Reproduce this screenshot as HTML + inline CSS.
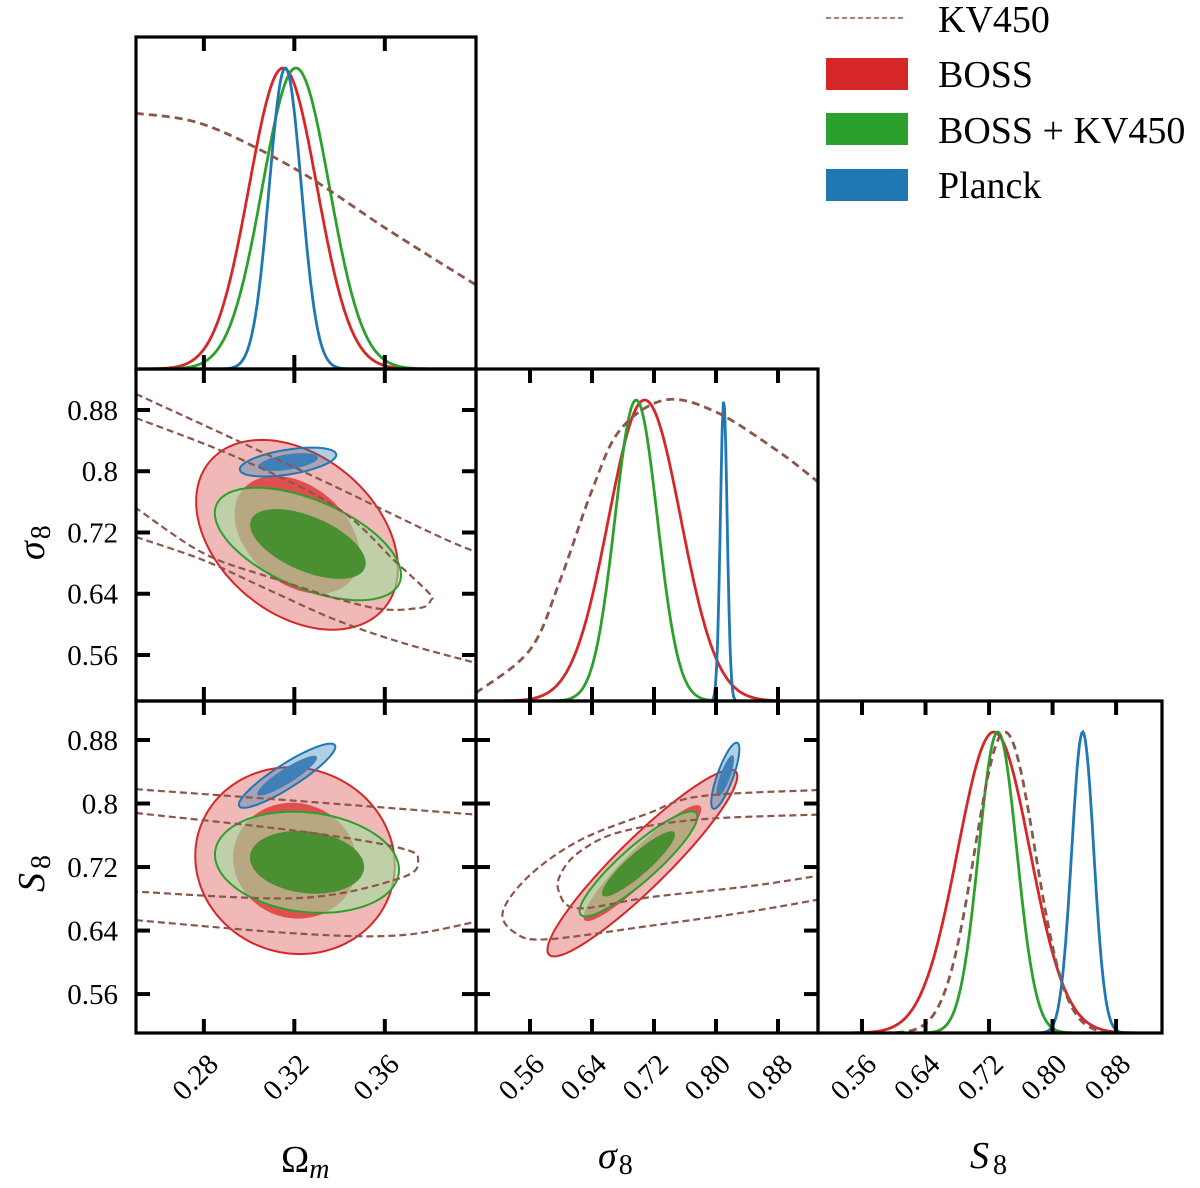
<!DOCTYPE html>
<html><head><meta charset="utf-8">
<style>
html,body{margin:0;padding:0;background:#fff;}
svg, svg text{font-family:"Liberation Serif","DejaVu Serif",serif;}
</style></head>
<body>
<svg id="fig" width="1200" height="1183" viewBox="0 0 1200 1183" xmlns="http://www.w3.org/2000/svg" font-family="Liberation Serif, serif">
<g id="marks"></g>
<g id="frames"></g>
<g id="labels"></g>
<g id="legend">
  <line x1="826" y1="18" x2="906" y2="18" stroke="#8c564b" stroke-width="1.6" stroke-dasharray="5,3"/>
  <text x="938" y="32" font-size="38">KV450</text>
  <rect x="826" y="58" width="82" height="32" fill="#d62728"/>
  <text x="938" y="87" font-size="38">BOSS</text>
  <rect x="826" y="113" width="82" height="32" fill="#2ca02c"/>
  <text x="938" y="143" font-size="38">BOSS + KV450</text>
  <rect x="826" y="169" width="82" height="32" fill="#1f77b4"/>
  <text x="938" y="198" font-size="38">Planck</text>
</g>
<g>
  <text x="281" y="1172" font-size="38">Ω<tspan font-style="italic" font-size="28" dy="6">m</tspan></text>
  <text x="598" y="1168" font-size="38" font-style="italic">σ<tspan font-style="normal" font-size="28" dy="6" dx="2">8</tspan></text>
  <text x="970" y="1168" font-size="38" font-style="italic">S<tspan font-style="normal" font-size="28" dy="6" dx="4">8</tspan></text>
  <text transform="translate(44 560) rotate(-90)" font-size="38" font-style="italic">σ<tspan font-style="normal" font-size="28" dy="6" dx="2">8</tspan></text>
  <text transform="translate(44 892) rotate(-90)" font-size="38" font-style="italic">S<tspan font-style="normal" font-size="28" dy="6" dx="4">8</tspan></text>
</g>
</svg>
<script>
// ---------- data ----------
const omMeans = [0.315, 0.3207, 0.316];
const omSigmas = [0.015, 0.0148, 0.0071];
const s8sigMeans = [0.708, 0.697, 0.810];
const s8sigSigmas = [0.0466, 0.0274, 0.0044];
const S8Means = [0.726, 0.731, 0.838];
const S8Sigmas = [0.0455, 0.024, 0.0139];
const kvS8Mean = 0.740;
const kvS8Sigma = 0.038;
const kvOmX = [0.25, 0.2805, 0.3212, 0.3615, 0.4003];
const kvOmD = [0.850, 0.811, 0.661, 0.462, 0.279];
const kvSigX = [0.4903, 0.56, 0.5987, 0.64, 0.6761, 0.7342, 0.80, 0.88, 0.9316];
const kvSigD = [0.027, 0.17, 0.40, 0.70, 0.90, 1.0, 0.96, 0.83, 0.728];
const omSigEll = [[0.3212,0.717,0.0182,0.0506,-0.35],[0.326,0.705,0.0168,0.030,-0.55],[0.3172,0.812,0.0087,0.0077,0.5]];
const omS8Ell = [[0.3203,0.728,0.018,0.048,-0.05],[0.3256,0.726,0.0166,0.026,-0.15],[0.3168,0.835,0.0087,0.0165,0.9]];
const sigS8Ell = [[0.705,0.725,0.05,0.048,0.93],[0.700,0.724,0.031,0.027,0.9],[0.812,0.835,0.0074,0.017,0.8]];
const kvOmSigOuterA_x = [0.25,0.2942,0.3384,0.3826,0.4003];
const kvOmSigOuterA_y = [0.9009,0.8408,0.7794,0.7167,0.6945];
const kvOmSigOuterB_x = [0.25,0.2796,0.3088,0.3384,0.368,0.4003];
const kvOmSigOuterB_y = [0.7141,0.6841,0.6449,0.6057,0.5757,0.5495];
const kvOmSigInner_x = [0.25,0.2942,0.3384,0.3649,0.3795,0.3804,0.3751,0.353,0.3088,0.2796,0.25];
const kvOmSigInner_y = [0.8696,0.8186,0.7533,0.6815,0.641,0.6318,0.6214,0.6227,0.6619,0.6932,0.752];
const kvOmS8OuterA_x = [0.25,0.3225,0.4003];
const kvOmS8OuterA_y = [0.818,0.803,0.786];
const kvOmS8OuterB_x = [0.25,0.3225,0.3667,0.4003];
const kvOmS8OuterB_y = [0.653,0.636,0.634,0.651];
const kvOmS8Inner_x = [0.25,0.3225,0.3667,0.3747,0.3667,0.3225,0.25];
const kvOmS8Inner_y = [0.788,0.765,0.744,0.728,0.706,0.681,0.689];
const kvSigS8Outer_x = [0.932,0.779,0.711,0.625,0.560,0.525,0.541,0.582,0.715,0.844,0.932];
const kvSigS8Outer_y = [0.817,0.809,0.787,0.754,0.710,0.664,0.637,0.629,0.646,0.664,0.679];
const kvSigS8Inner_x = [0.932,0.779,0.676,0.625,0.601,0.597,0.621,0.715,0.844,0.932];
const kvSigS8Inner_y = [0.786,0.780,0.764,0.740,0.714,0.690,0.668,0.682,0.696,0.709];
const omTicks = [0.28, 0.32, 0.36];
const omTickLabels = ["0.28", "0.32", "0.36"];
const sTicks = [0.56, 0.64, 0.72, 0.80, 0.88];
const sTickLabelsX = ["0.56", "0.64", "0.72", "0.80", "0.88"];
const sTickLabelsY = ["0.56", "0.64", "0.72", "0.8", "0.88"];

// ---------- scales ----------
const xOm = v => 136 + (v - 0.25) * 2262;
const xSig = v => 530 + (v - 0.56) * 775;
const xS8 = v => 862 + (v - 0.56) * 794;
const ySig = v => 410 - (v - 0.88) * 765.6;
const yS8 = v => 740 - (v - 0.88) * 794;
const COLS = ['#d62728', '#2ca02c', '#1f77b4'];
const OUTER_FILL = ['rgba(214,39,40,0.33)', 'rgba(160,222,160,0.62)', 'rgba(31,119,180,0.35)'];
const INNER_FILL = ['#e04f4f', '#4a8f31', '#3f80b8'];
const NAMES = ['boss', 'boss-kv450', 'planck'];
const NS = 'http://www.w3.org/2000/svg';
const marks = document.getElementById('marks');
const frames = document.getElementById('frames');
const labels = document.getElementById('labels');

function mk(tag, attrs, parent) {
  const e = document.createElementNS(NS, tag);
  for (const k in attrs) e.setAttribute(k, attrs[k]);
  parent.appendChild(e);
  return e;
}
function smooth(pts, closed) {
  const n = pts.length;
  let d = 'M' + pts[0][0].toFixed(1) + ',' + pts[0][1].toFixed(1);
  const get = i => closed ? pts[(i + n) % n] : pts[Math.max(0, Math.min(n - 1, i))];
  const last = closed ? n : n - 1;
  for (let i = 0; i < last; i++) {
    const p0 = get(i - 1), p1 = get(i), p2 = get(i + 1), p3 = get(i + 2);
    const c1 = [p1[0] + (p2[0] - p0[0]) / 6, p1[1] + (p2[1] - p0[1]) / 6];
    const c2 = [p2[0] - (p3[0] - p1[0]) / 6, p2[1] - (p3[1] - p1[1]) / 6];
    d += 'C' + c1[0].toFixed(1) + ',' + c1[1].toFixed(1) + ' ' + c2[0].toFixed(1) + ',' + c2[1].toFixed(1) + ' ' + p2[0].toFixed(1) + ',' + p2[1].toFixed(1);
  }
  return d + (closed ? 'Z' : '');
}
function clipRect(id, x, y, w, h) {
  const defs = document.querySelector('defs') || mk('defs', {}, document.getElementById('fig'));
  const cp = mk('clipPath', {id: id}, defs);
  mk('rect', {x: x, y: y, width: w, height: h}, cp);
}
function ellipsePath(e, a, fx, fy) {
  const [cx, cy, sx, sy, r] = e;
  const pts = [];
  for (let i = 0; i < 120; i++) {
    const t = i / 120 * 2 * Math.PI;
    const vx = cx + a * sx * Math.cos(t);
    const vy = cy + a * sy * (r * Math.cos(t) + Math.sqrt(1 - r * r) * Math.sin(t));
    pts.push([fx(vx), fy(vy)]);
  }
  return 'M' + pts.map(p => p[0].toFixed(1) + ',' + p[1].toFixed(1)).join('L') + 'Z';
}

function panel2D(name, clipId, ells, kvLines, fx, fy) {
  const g = mk('g', {'clip-path': 'url(#' + clipId + ')'}, marks);
  
  
  ells.forEach((e, i) => {
    const o = mk('path', {d: ellipsePath(e, 2.45, fx, fy), fill: OUTER_FILL[i], stroke: COLS[i], 'stroke-width': 2}, g);
    
    
    const n = mk('path', {d: ellipsePath(e, 1.52, fx, fy), fill: INNER_FILL[i]}, g);
    
    
  });
  kvLines.forEach(l => {
    const pts = l.xs.map((v, k) => [fx(v), fy(l.ys[k])]);
    const p = mk('path', {d: smooth(pts, false), fill: 'none', stroke: '#8c564b', 'stroke-width': 2.2, 'stroke-dasharray': '7,4'}, g);
    
    
  });
}
function panel1D(name, clipId, x0, x1, yTop, yBot, fx, means, sigmas, kv) {
  const g = mk('g', {'clip-path': 'url(#' + clipId + ')'}, marks);
  
  
  const peakY = yTop + 31, H = yBot - peakY;
  const N = 300;
  const fy = d => yBot - d * H;
  const a = fx(0), b = fx(1) - fx(0);
  const pxs = [];
  for (let k = 0; k <= N; k++) pxs.push(x0 + (x1 - x0) * k / N);
  means.forEach((m, i) => {
    const d = pxs.map(px => {
      const z = ((px - a) / b - m) / sigmas[i];
      return [px, fy(Math.exp(-0.5 * z * z))];
    });
    const p = mk('path', {d: 'M' + d.map(q => q[0].toFixed(1) + ',' + q[1].toFixed(1)).join('L'), fill: 'none', stroke: COLS[i], 'stroke-width': 2.8}, g);
    
    
  });
  let kvD;
  if (kv.type === 'pts') kvD = smooth(kv.xs.map((v, k) => [fx(v), fy(kv.ds[k])]), false);
  else {
    const d = pxs.map(px => {
      const z = ((px - a) / b - kv.mean) / kv.sigma;
      return [px, fy(Math.exp(-0.5 * z * z))];
    });
    kvD = 'M' + d.map(q => q[0].toFixed(1) + ',' + q[1].toFixed(1)).join('L');
  }
  const p = mk('path', {d: kvD, fill: 'none', stroke: '#8c564b', 'stroke-width': 2.8, 'stroke-dasharray': '8,5'}, g);
  
  
}
function frame(name, x, y, w, h, xt, fx, yt, fy) {
  const g = mk('g', {}, frames);
  
  
  xt.forEach(v => {
    const px = fx(v);
    mk('line', {x1: px, y1: y, x2: px, y2: y + 14, stroke: '#000', 'stroke-width': 4}, g);
    mk('line', {x1: px, y1: y + h, x2: px, y2: y + h - 14, stroke: '#000', 'stroke-width': 4}, g);
  });
  if (yt) yt.forEach(v => {
    const py = fy(v);
    mk('line', {x1: x, y1: py, x2: x + 14, y2: py, stroke: '#000', 'stroke-width': 4}, g);
    mk('line', {x1: x + w, y1: py, x2: x + w - 14, y2: py, stroke: '#000', 'stroke-width': 4}, g);
  });
  mk('rect', {x: x, y: y, width: w, height: h, fill: 'none', stroke: '#000', 'stroke-width': 3.2}, g);
}

clipRect('c00', 136, 37, 340, 332);
clipRect('c10', 136, 369, 340, 332);
clipRect('c11', 476, 369, 342, 332);
clipRect('c20', 136, 701, 340, 332);
clipRect('c21', 476, 701, 342, 332);
clipRect('c22', 818, 701, 344, 332);

panel1D('omega-m-1d-panel', 'c00', 136, 476, 37, 369, xOm, omMeans, omSigmas, {type: 'pts', xs: kvOmX, ds: kvOmD});
panel1D('sigma8-1d-panel', 'c11', 476, 818, 369, 701, xSig, s8sigMeans, s8sigSigmas, {type: 'pts', xs: kvSigX, ds: kvSigD});
panel1D('s8-1d-panel', 'c22', 818, 1162, 701, 1033, xS8, S8Means, S8Sigmas, {type: 'gauss', mean: kvS8Mean, sigma: kvS8Sigma});

panel2D('omega-m-sigma8-panel', 'c10', omSigEll, [
  {xs: kvOmSigOuterA_x, ys: kvOmSigOuterA_y},
  {xs: kvOmSigOuterB_x, ys: kvOmSigOuterB_y},
  {xs: kvOmSigInner_x, ys: kvOmSigInner_y}], xOm, ySig);
panel2D('omega-m-s8-panel', 'c20', omS8Ell, [
  {xs: kvOmS8OuterA_x, ys: kvOmS8OuterA_y},
  {xs: kvOmS8OuterB_x, ys: kvOmS8OuterB_y},
  {xs: kvOmS8Inner_x, ys: kvOmS8Inner_y}], xOm, yS8);
panel2D('sigma8-s8-panel', 'c21', sigS8Ell, [
  {xs: kvSigS8Outer_x, ys: kvSigS8Outer_y},
  {xs: kvSigS8Inner_x, ys: kvSigS8Inner_y}], xSig, yS8);

frame('frame-00', 136, 37, 340, 332, omTicks, xOm, null, null);
frame('frame-10', 136, 369, 340, 332, omTicks, xOm, sTicks, ySig);
frame('frame-11', 476, 369, 342, 332, sTicks, xSig, null, null);
frame('frame-20', 136, 701, 340, 332, omTicks, xOm, sTicks, yS8);
frame('frame-21', 476, 701, 342, 332, sTicks, xSig, sTicks, yS8);
frame('frame-22', 818, 701, 344, 332, sTicks, xS8, null, null);

function xLabels(ticks, txt, fx) {
  ticks.forEach((v, i) => {
    const px = fx(v) + 16, py = 1066;
    const t = mk('text', {x: px, y: py, 'font-size': 29, 'text-anchor': 'end', transform: 'rotate(-45 ' + px + ' ' + py + ')'}, labels);
    
    
    t.textContent = txt[i];
  });
}
function yLabels(ticks, txt, fy) {
  ticks.forEach((v, i) => {
    const t = mk('text', {x: 118, y: fy(v) + 10, 'font-size': 29, 'text-anchor': 'end'}, labels);
    
    
    t.textContent = txt[i];
  });
}
xLabels(omTicks, omTickLabels, xOm);
xLabels(sTicks, sTickLabelsX, xSig);
xLabels(sTicks, sTickLabelsX, xS8);
yLabels(sTicks, sTickLabelsY, ySig);
yLabels(sTicks, sTickLabelsY, yS8);
</script>
</body></html>
